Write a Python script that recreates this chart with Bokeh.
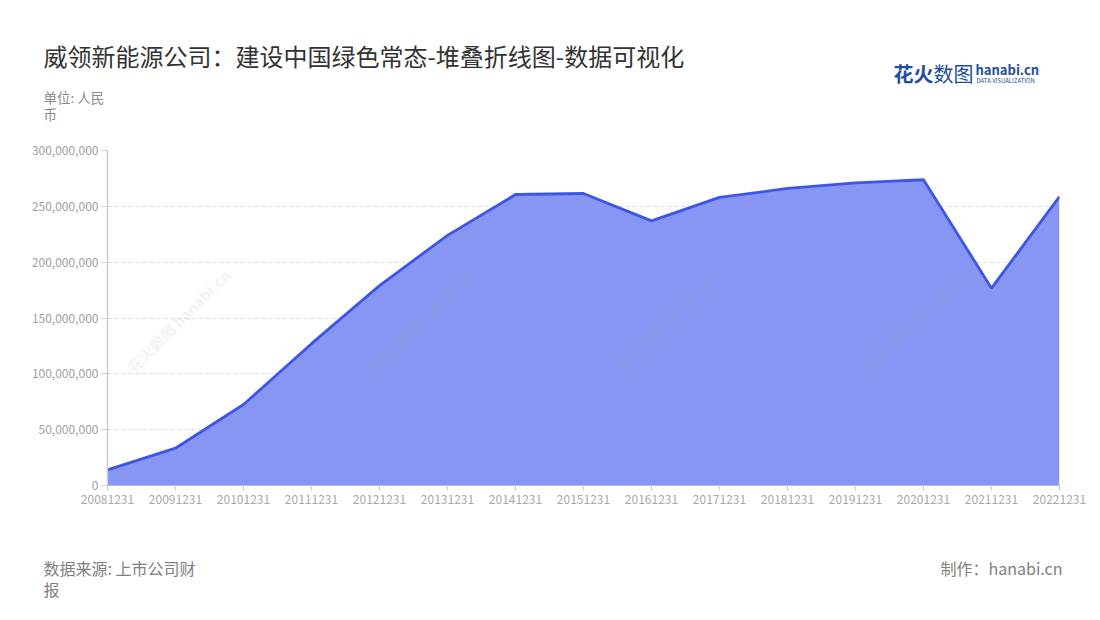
import math
from bokeh.plotting import figure
from bokeh.layouts import column
from bokeh.models import Label, NumeralTickFormatter, FixedTicker, Range1d
from bokeh.core.properties import value
from bokeh.embed import file_html
from bokeh.resources import INLINE

dates = ["20081231", "20091231", "20101231", "20111231", "20121231", "20131231", "20141231",
         "20151231", "20161231", "20171231", "20181231", "20191231", "20201231", "20211231", "20221231"]
values = [14.0e6, 33.4e6, 72.5e6, 127e6, 179e6, 224e6, 260.6e6,
          261.5e6, 237e6, 258e6, 266e6, 271e6, 273.8e6, 176.7e6, 258.8e6]
y_ticks = [0, 50e6, 100e6, 150e6, 200e6, 250e6, 300e6]

title = "威领新能源公司：建设中国绿色常态-堆叠折线图-数据可视化"
unit_lines = ["单位: 人民", "币"]
source_lines = ["数据来源: 上市公司财", "报"]
maker = "制作：hanabi.cn"
wm_text = "花火数图 hanabi.cn"

FONT = "Noto Sans CJK SC"
W = 1090
TOP_H, MAIN_H, BOT_H = 140, 375, 95
FRAME_L, FRAME_R, FRAME_T, FRAME_B = 107, 1059, 150, 485

wm_x = [178, 423, 668, 913]
wm_y = [320]


def deco_fig(y0, y1):
    f = figure(width=W, height=y1 - y0, output_backend="svg", toolbar_location=None,
               x_range=Range1d(0, W), y_range=Range1d(y1, y0),
               x_axis_location=None, y_axis_location=None, min_border=0,
               frame_align=False)
    f.outline_line_color = None
    f.xgrid.visible = False
    f.ygrid.visible = False
    return f


def add_wm(f, **kw):
    xs_, ys_ = [], []
    for yy in wm_y:
        for xx in wm_x:
            xs_.append(xx)
            ys_.append(yy)
    f.text(x=xs_, y=ys_, text=[wm_text] * len(xs_), angle=math.pi / 4,
           text_font=value(FONT), text_font_size="15px", text_font_style="bold",
           text_color="#9a9a9a", text_alpha=0.14, text_align="center", text_baseline="middle", **kw)


def lab(f, x, y, text, size, color, align="left", weight="normal"):
    f.add_layout(Label(x=x, y=y, text=text, text_font=FONT, text_font_size=size,
                       text_color=color, text_align=align, text_baseline="middle",
                       text_font_style=weight))


# ---------- top decoration ----------
top = deco_fig(0, TOP_H)
lab(top, 43, 55, title, "24px", "#333333")
lab(top, 43, 96, unit_lines[0], "13.5px", "#8A8A8A")
lab(top, 43, 113, unit_lines[1], "13.5px", "#8A8A8A")
lab(top, 893, 73, "花火", "20px", "#1F4E9E", weight="bold")
lab(top, 933, 73, "数图", "20px", "#1F4E9E")
lab(top, 975, 69, "hanabi.cn", "13px", "#1F4E9E", weight="bold")
lab(top, 976, 80, "DATA VISUALIZATION", "6px", "#1F4E9E")

# ---------- main chart ----------
xs = list(range(len(dates)))
p = figure(width=W, height=MAIN_H, output_backend="svg", toolbar_location=None,
           x_range=Range1d(0, len(dates) - 1), y_range=Range1d(0, 300e6),
           min_border_left=FRAME_L, min_border_right=W - FRAME_R,
           min_border_top=FRAME_T - TOP_H, min_border_bottom=TOP_H + MAIN_H - FRAME_B,
           frame_align=False)
p.extra_x_ranges = {"px": Range1d(FRAME_L, FRAME_R)}
p.extra_y_ranges = {"px": Range1d(FRAME_B, FRAME_T)}
p.outline_line_color = None

p.varea(x=xs, y1=[0] * len(xs), y2=values, fill_color="#8796F2", fill_alpha=1.0)
p.line(xs, values, line_color="#3D55E8", line_width=2.8)
add_wm(p, x_range_name="px", y_range_name="px")

p.xgrid.grid_line_color = None
p.ygrid.grid_line_color = "#DDDDDD"
p.ygrid.grid_line_dash = "4 3"
p.ygrid.ticker = FixedTicker(ticks=y_ticks)

p.yaxis.ticker = FixedTicker(ticks=y_ticks)
p.yaxis.formatter = NumeralTickFormatter(format="0,0")
p.yaxis.axis_line_color = "#CCCCCC"
p.yaxis.axis_line_width = 1.5
p.yaxis.major_tick_line_color = "#CCCCCC"
p.yaxis.major_tick_out = 6
p.yaxis.major_tick_in = 0
p.yaxis.minor_tick_line_color = None
p.yaxis.major_label_text_color = "#A0A0A0"
p.yaxis.major_label_text_font = FONT
p.yaxis.major_label_text_font_size = "12px"
p.yaxis.major_label_standoff = 3

p.xaxis.ticker = FixedTicker(ticks=xs)
p.xaxis.major_label_overrides = {i: d for i, d in enumerate(dates)}
p.xaxis.axis_line_color = "#AEB8F2"
p.xaxis.major_tick_line_color = "#CCCCCC"
p.xaxis.major_tick_out = 5
p.xaxis.major_tick_in = 0
p.xaxis.minor_tick_line_color = None
p.xaxis.major_label_text_color = "#A8A8A8"
p.xaxis.major_label_text_font = FONT
p.xaxis.major_label_text_font_size = "12px"
p.xaxis.major_label_standoff = 4

# ---------- bottom decoration ----------
bot = deco_fig(TOP_H + MAIN_H, TOP_H + MAIN_H + BOT_H)
lab(bot, 43, 567, source_lines[0], "16px", "#808080")
lab(bot, 43, 588, source_lines[1], "16px", "#808080")
lab(bot, 1062, 567, maker, "16px", "#808080", align="right")

layout = column(top, p, bot, spacing=0)
open("out.html", "w").write(file_html(layout, INLINE))
